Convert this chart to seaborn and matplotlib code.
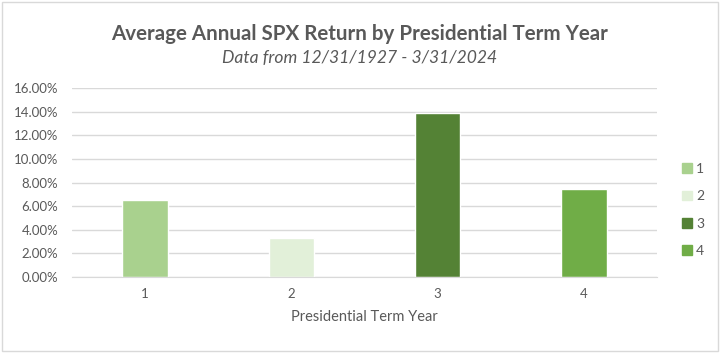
import matplotlib
matplotlib.use("Agg")
import pandas as pd
import seaborn as sns
import matplotlib.pyplot as plt
from matplotlib.ticker import FuncFormatter
from matplotlib.patches import Rectangle

# Average annual SPX return (%) by presidential term year
term_years = ["1", "2", "3", "4"]
avg_returns = [6.55, 3.33, 13.87, 7.45]
bar_colors = ["#A9D18E", "#E2F0D9", "#548235", "#70AD47"]

df = pd.DataFrame({"year": term_years, "ret": avg_returns})

sns.set_style("white")
plt.rcParams["font.family"] = ["Lato", "DejaVu Sans"]

fig = plt.figure(figsize=(7.2, 3.53), dpi=100)
ax = fig.add_axes([0.1, 0.215, 0.8125, 0.536])

sns.barplot(data=df, x="year", y="ret", hue="year", palette=bar_colors,
            width=0.31, dodge=False, legend=False, saturation=1, ax=ax)

ax.set_ylim(0, 16)
ax.set_yticks(range(0, 17, 2))
ax.yaxis.set_major_formatter(FuncFormatter(lambda v, p: f"{v:.2f}%"))
ax.grid(axis="y", color="#D9D9D9", linewidth=1)
ax.set_axisbelow(True)
for s in ["top", "right", "left"]:
    ax.spines[s].set_visible(False)
ax.spines["bottom"].set_color("#D9D9D9")
ax.tick_params(axis="both", length=0, labelsize=9.5, labelcolor="#595959")
ax.tick_params(axis="y", pad=10)
ax.tick_params(axis="x", pad=8)
ax.set_xlabel("Presidential Term Year", fontsize=10.5, color="#595959", labelpad=7)
ax.set_ylabel("")

fig.text(0.5, 0.905, "Average Annual SPX Return by Presidential Term Year",
         ha="center", va="center", fontsize=14.8, fontweight="bold", color="#595959")
fig.text(0.5, 0.835, "Data from 12/31/1927 - 3/31/2024", ha="center", va="center",
         fontsize=12.6, style="italic", color="#595959")

handles = [Rectangle((0, 0), 1, 1, color=c) for c in bar_colors]
fig.legend(handles, term_years, loc="center left", bbox_to_anchor=(0.93, 0.405),
           frameon=False, fontsize=10, labelcolor="#595959", handlelength=0.7,
           handleheight=0.7, handletextpad=0.3, labelspacing=1.1)

fig.patches.append(Rectangle((0.003, 0.005), 0.994, 0.99, transform=fig.transFigure,
                             fill=False, edgecolor="#D9D9D9", linewidth=1))

fig.savefig("out.png", dpi=100)
